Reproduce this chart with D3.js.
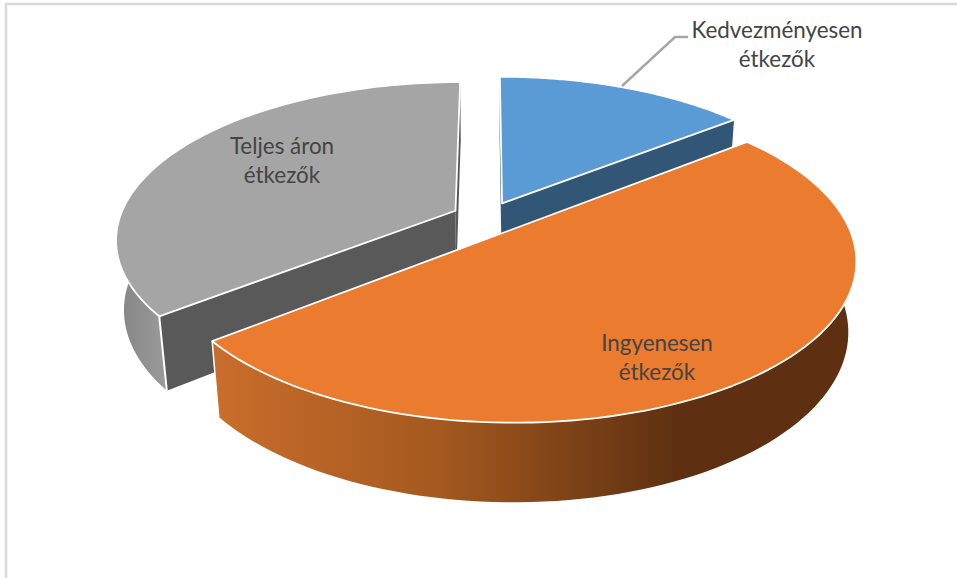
<!DOCTYPE html>
<html><head><meta charset="utf-8">
<script src="https://cdn.jsdelivr.net/npm/d3@7/dist/d3.min.js"></script>
<style>html,body{margin:0;padding:0;background:#fff;overflow:hidden}svg{display:block}</style>
</head><body><svg id="c" width="957" height="578"></svg>
<script>
const categories = ["Kedvezményesen étkezők", "Ingyenesen étkezők", "Teljes áron étkezők"];
const values = [14.3, 50, 35.7];
const labelLines = [["Kedvezményesen", "étkezők"], ["Ingyenesen", "étkezők"], ["Teljes áron", "étkezők"]];

const W = 957, H = 578;
const svg = d3.select("#c").attr("viewBox", [0, 0, W, H]);
svg.append("rect").attr("width", W).attr("height", H).attr("fill", "#fff");
// frame
svg.append("path").attr("d", "M6 578V4H957").attr("fill", "none").attr("stroke", "#d9d9d9").attr("stroke-width", 2.5);

// perspective camera
const X0 = 487, Y0 = 217.7, F = 1703, D = 5.07, TH = Math.asin(0.457), DEPTH = 0.236, EXPL = 0.105;
const sinT = Math.sin(TH), cosT = Math.cos(TH);
function project(x, y, z) {
  const yc = -y * sinT + z * cosT, dc = D - (y * cosT + z * sinT);
  return [X0 + F * x / dc, Y0 - F * yc / dc];
}
const arcs = d3.pie().sort(null).value(d => d)(values);
const line = d3.line();
function geom(a) {
  const mid = (a.startAngle + a.endAngle) / 2;
  const ox = EXPL * Math.sin(mid), oy = -EXPL * Math.cos(mid);
  const rim = (z, from = a.startAngle, to = a.endAngle) => d3.range(0, 101).map(i => {
    const t = from + (to - from) * i / 100;
    return project(ox + Math.sin(t), oy - Math.cos(t), z);
  });
  const apex = z => project(ox, oy, z);
  const edge = (t, z) => project(ox + Math.sin(t), oy - Math.cos(t), z);
  return {
    top: line([apex(0), ...rim(0)]) + "Z",
    outer: line([...rim(0), ...rim(-DEPTH).reverse()]) + "Z",
    cutStart: line([apex(0), edge(a.startAngle, 0), edge(a.startAngle, -DEPTH), apex(-DEPTH)]) + "Z",
    cutEnd: line([apex(0), edge(a.endAngle, 0), edge(a.endAngle, -DEPTH), apex(-DEPTH)]) + "Z",
    vEdge: t => line([edge(t, 0), edge(t, -DEPTH)])
  };
}
const [blue, orange, grey] = arcs.map(geom);

const defs = svg.append("defs");
function grad(id, x1, x2, stops) {
  const g = defs.append("linearGradient").attr("id", id).attr("gradientUnits", "userSpaceOnUse")
    .attr("x1", x1).attr("x2", x2).attr("y1", 0).attr("y2", 0);
  stops.forEach(s => g.append("stop").attr("offset", s[0]).attr("stop-color", s[1]));
}
grad("og", 215, 855, [[0, "#c96d2b"], [0.35, "#a4591f"], [0.72, "#5e3011"], [1, "#5e3011"]]);
grad("gg", 118, 170, [[0, "#858585"], [1, "#9c9c9c"]]);

const W_ST = { stroke: "#fff", "stroke-width": 1.8, "stroke-linejoin": "round" };
function draw(d, fill, stroke = true) {
  const p = svg.append("path").attr("d", d).attr("fill", fill);
  if (stroke) Object.entries(W_ST).forEach(([k, v]) => p.attr(k, v));
  return p;
}
// grey wedge
draw(grey.outer, "url(#gg)", false);
draw(grey.cutEnd, "#595959", false);
draw(grey.cutStart, "#595959", false);
draw(grey.vEdge(arcs[2].startAngle), "none").attr("stroke-width", 2);
draw(grey.top, "#a5a5a5");
// blue wedge
draw(blue.cutEnd, "#325676", false);
draw(blue.cutStart, "#325676", false);
draw(blue.top, "#5b9bd5");
// orange wedge
draw(orange.outer, "url(#og)", false);
draw(orange.vEdge(arcs[1].endAngle), "none").attr("stroke-width", 1.5);
draw(orange.top, "#ea7b2f");

// leader line
svg.append("path").attr("d", "M622 86L675 37H688").attr("fill", "none").attr("stroke", "#a6a6a6").attr("stroke-width", 2.4);

// labels
const labelAnchors = [[777, 38], [657, 351], [282, 154]];
labelLines.forEach((lines, i) => {
  const t = svg.append("text").attr("text-anchor", "middle")
    .attr("font-family", "Lato, 'Open Sans', sans-serif").attr("font-size", 22.4).attr("fill", "#444");
  lines.forEach((s, j) => t.append("tspan").attr("x", labelAnchors[i][0]).attr("y", labelAnchors[i][1] + j * 29).text(s));
});
</script></body></html>
